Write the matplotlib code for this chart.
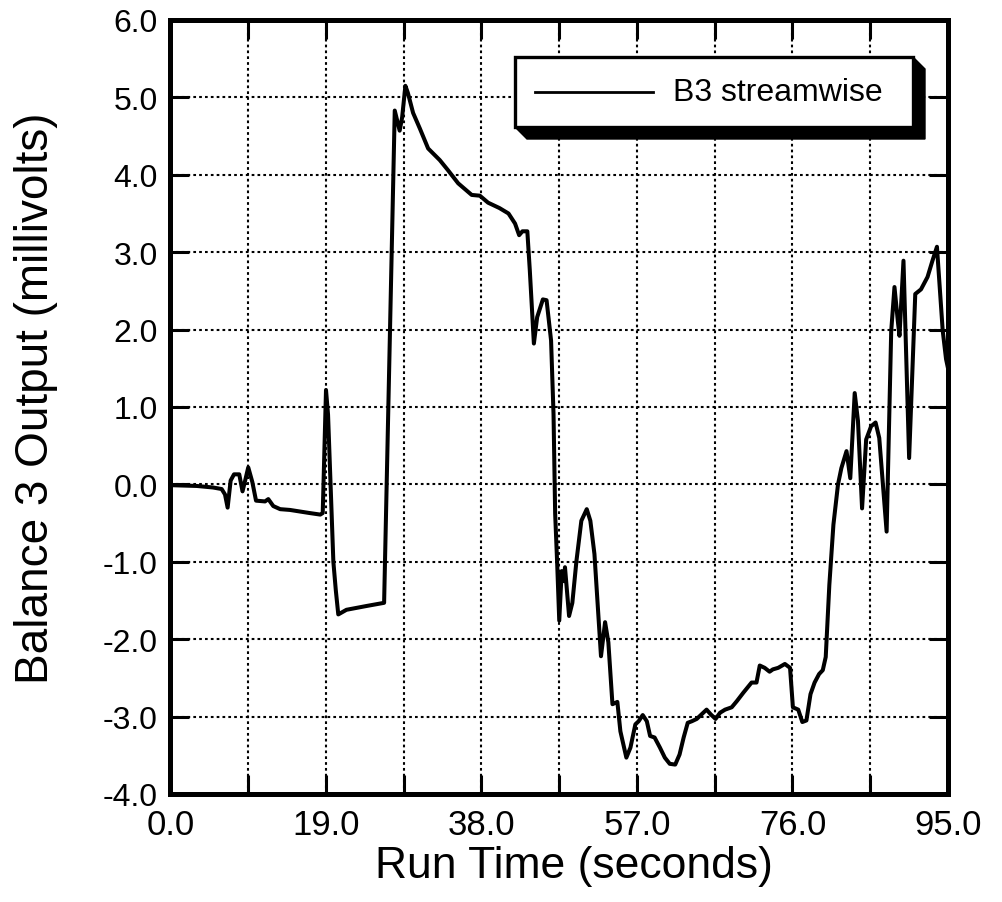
import matplotlib
matplotlib.use("Agg")
import matplotlib.pyplot as plt
from matplotlib.patches import Polygon, Rectangle
from matplotlib.lines import Line2D
from matplotlib.ticker import MultipleLocator

plt.rcParams['font.family'] = ['Liberation Sans', 'DejaVu Sans']

# Balance 3 streamwise output over the run
run_time = [0.0, 3.2, 5.2, 6.25, 6.66, 6.98, 7.35, 7.76, 8.4, 8.8, 9.1, 9.5, 10.0,
            10.45, 11.55, 11.95, 12.56, 13.4, 14.6, 15.8, 17.0, 18.3, 18.6, 19.0,
            19.25, 19.9, 20.2, 20.5, 21.5, 24.0, 26.1, 27.4, 28.0, 28.3, 28.7, 29.0,
            29.64, 30.46, 31.48, 32.9, 33.9, 35.15, 36.8, 37.8, 38.8, 40.2, 41.3,
            42.1, 42.6, 43.0, 43.6, 43.9, 44.4, 44.8, 45.5, 45.95, 46.5, 46.8, 47.0,
            47.25, 47.5, 47.8, 48.1, 48.2, 48.7, 49.1, 49.6, 50.2, 50.86, 51.3, 51.8,
            52.3, 52.6, 53.1, 53.5, 54.0, 54.6, 54.97, 55.7, 56.2, 56.8, 57.2, 57.7,
            58.2, 58.6, 59.15, 59.8, 60.4, 61.0, 61.67, 62.2, 62.7, 63.2, 63.7, 64.3,
            64.7, 65.5, 66.0, 66.6, 67.15, 67.76, 68.57, 69.2, 70.0, 71.0, 71.6, 72.0,
            72.6, 73.2, 73.6, 74.25, 75.07, 75.7, 76.05, 76.7, 77.2, 77.7, 78.2, 78.7,
            79.25, 79.7, 80.06, 80.5, 81.0, 81.56, 81.97, 82.6, 83.06, 83.6, 84.0,
            84.5, 85.0, 85.6, 86.15, 86.6, 87.5, 88.06, 88.46, 88.87, 89.07, 89.56,
            90.25, 91.0, 91.7, 92.5, 93.1, 93.65, 94.35, 94.76, 95.0]
b3_streamwise = [-0.01, -0.02, -0.04, -0.06, -0.13, -0.30, 0.05, 0.13, 0.13, -0.09,
                 0.04, 0.22, 0.03, -0.21, -0.22, -0.19, -0.28, -0.32, -0.33, -0.35,
                 -0.37, -0.39, -0.37, 1.22, 0.90, -1.0, -1.37, -1.68, -1.62, -1.57,
                 -1.53, 4.83, 4.57, 4.74, 5.15, 5.06, 4.80, 4.60, 4.34, 4.19, 4.06,
                 3.89, 3.74, 3.73, 3.64, 3.57, 3.50, 3.37, 3.22, 3.27, 3.27, 2.77,
                 1.82, 2.16, 2.39, 2.38, 1.86, 0.91, -0.38, -1.03, -1.76, -1.12,
                 -1.25, -1.07, -1.70, -1.53, -0.99, -0.47, -0.32, -0.47, -0.90, -1.72,
                 -2.22, -1.78, -2.04, -2.84, -2.81, -3.19, -3.53, -3.40, -3.10, -3.06,
                 -2.98, -3.06, -3.25, -3.27, -3.40, -3.53, -3.61, -3.62, -3.49, -3.27,
                 -3.08, -3.06, -3.03, -2.99, -2.91, -2.97, -3.03, -2.95, -2.91, -2.88,
                 -2.80, -2.69, -2.56, -2.56, -2.34, -2.37, -2.42, -2.39, -2.37, -2.32,
                 -2.37, -2.88, -2.91, -3.07, -3.05, -2.71, -2.56, -2.45, -2.40, -2.23,
                 -1.30, -0.52, 0.0, 0.21, 0.43, 0.08, 1.18, 0.82, -0.31, 0.58, 0.75,
                 0.80, 0.60, -0.61, 1.98, 2.55, 2.11, 1.92, 2.89, 0.34, 2.46, 2.52,
                 2.68, 2.89, 3.07, 1.99, 1.62, 1.50]

x_ticks = [0.0, 19.0, 38.0, 57.0, 76.0, 95.0]
y_ticks = [-4.0, -3.0, -2.0, -1.0, 0.0, 1.0, 2.0, 3.0, 4.0, 5.0, 6.0]
series_label = "B3 streamwise"

fig = plt.figure(figsize=(10.03, 9.03), dpi=100)
W, H = 1003, 903
left, right, top, bottom = 170.5, 948, 21, 795
ax = fig.add_axes([left / W, 1 - bottom / H, (right - left) / W, (bottom - top) / H])

ax.plot(run_time, b3_streamwise, color='black', lw=2.9, solid_joinstyle='round',
        label=series_label, zorder=3)

ax.set_xlim(x_ticks[0], x_ticks[-1])
ax.set_ylim(y_ticks[0], y_ticks[-1])
ax.set_xticks(x_ticks)
ax.set_xticklabels([f"{v:.1f}" for v in x_ticks])
ax.xaxis.set_minor_locator(MultipleLocator(9.5))
ax.set_yticks(y_ticks)
ax.set_yticklabels([f"{v:.1f}" for v in y_ticks])

grid_style = dict(color='black', linestyle=(0, (1.3, 1.5)), linewidth=1.5)
ax.grid(True, which='both', **grid_style)
ax.set_axisbelow(True)

for s in ax.spines.values():
    s.set_linewidth(3.6)
    s.set_zorder(4)

ax.tick_params(which='both', direction='in', length=14, width=2.2,
               top=True, right=True, color='black')
ax.tick_params(axis='x', which='major', labelsize=25, pad=10)
ax.tick_params(axis='y', which='major', labelsize=23, pad=9)

ax.set_xlabel("Run Time (seconds)", fontsize=32)
ax.set_ylabel("Balance 3 Output (millivolts)", fontsize=33)
ax.xaxis.set_label_coords(0.519, -0.066)
ax.yaxis.set_label_coords(-0.145, 0.513)

# Legend box with a bevelled drop shadow, in axes-fraction coordinates
def fx(px):
    return (px - left) / (right - left)

def fy(py):
    return (bottom - py) / (bottom - top)

bx0, bx1, by0, by1 = 515, 913, 58, 128
off = 12
shadow = Polygon([(fx(bx0), fy(by1)), (fx(bx0 + off), fy(by1 + off)),
                  (fx(bx1 + off), fy(by1 + off)), (fx(bx1 + off), fy(by0 + off)),
                  (fx(bx1), fy(by0))], closed=True, transform=ax.transAxes,
                 facecolor='black', edgecolor='black', lw=1, zorder=6)
ax.add_patch(shadow)
box = Rectangle((fx(bx0), fy(by1)), fx(bx1) - fx(bx0), fy(by0) - fy(by1),
                transform=ax.transAxes, facecolor='white', edgecolor='black',
                lw=2.4, zorder=7)
ax.add_patch(box)
ly = fy(93)
ax.add_line(Line2D([fx(535), fx(653)], [ly, ly], transform=ax.transAxes,
                   color='black', lw=2.0, zorder=8))
ax.text(fx(673), ly, series_label, transform=ax.transAxes, fontsize=23,
        va='center', ha='left', zorder=8)

fig.savefig("out.png", dpi=100)
